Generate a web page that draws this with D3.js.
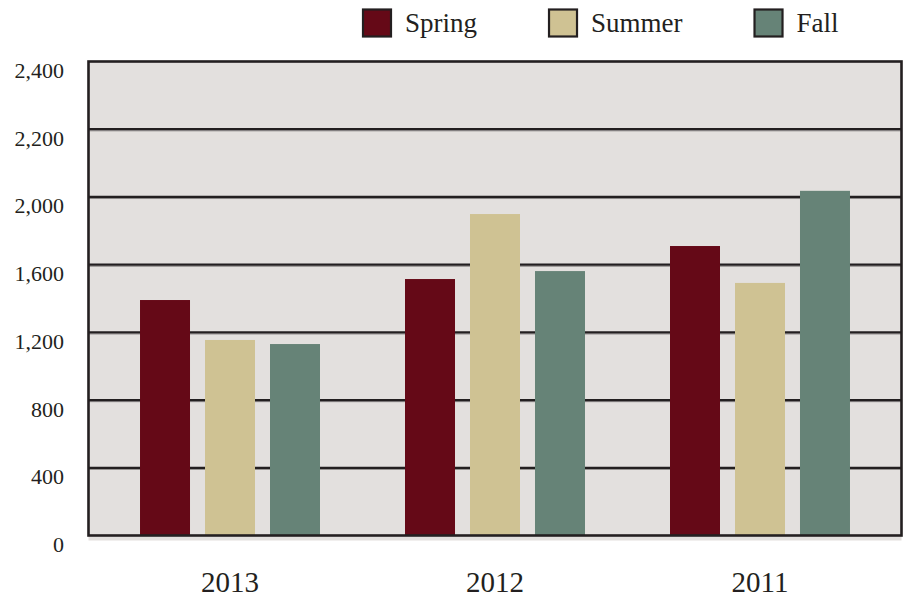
<!DOCTYPE html>
<html>
<head>
<meta charset="utf-8">
<script src="https://cdnjs.cloudflare.com/ajax/libs/d3/7.8.5/d3.min.js"></script>
<style>
  body { margin: 0; background: #fff; }
</style>
</head>
<body>
<script>
const years = ["2013", "2012", "2011"]
const seasons = ["Spring", "Summer", "Fall"]
const spring = [1391, 1515, 1710]
const summer = [1155, 1899, 1492]
const fall = [1131, 1562, 2018]
const tickValues = [0, 400, 800, 1200, 1600, 2000, 2200, 2400]
const colors = ["#650917", "#cfc293", "#668377"]

const width = 908
const height = 598
const margin = {top: 61.5, right: 6.5, bottom: 62.5, left: 88.5}
const serif = "'Liberation Serif', 'DejaVu Serif', serif"

const series = [spring, summer, fall]
const data = years.map((year, i) => ({
  year,
  values: seasons.map((season, j) => ({ season, value: series[j][i] }))
}))

const svg = d3.select("body").append("svg")
    .attr("width", width)
    .attr("height", height)
    .attr("font-family", serif)

const x0 = d3.scaleBand(years, [margin.left, width - margin.right])
    .paddingInner(0)
    .paddingOuter(0.034)

const x1 = d3.scaleBand(seasons, [0, x0.bandwidth()])
    .paddingInner(0.2308)
    .paddingOuter(0.654)

// the axis labels are not evenly spaced in value, so the scale is piecewise
const y = d3.scaleLinear(tickValues,
    tickValues.map((d, i) => height - margin.bottom - i * (height - margin.top - margin.bottom) / (tickValues.length - 1)))

const color = d3.scaleOrdinal(seasons, colors)

svg.append("rect")
    .attr("x", margin.left)
    .attr("y", margin.top)
    .attr("width", width - margin.left - margin.right)
    .attr("height", height - margin.top - margin.bottom)
    .attr("fill", "#e3e0de")

// shadow strip under the frame
svg.append("rect")
    .attr("x", margin.left)
    .attr("y", height - margin.bottom + 1)
    .attr("width", width - margin.left - margin.right)
    .attr("height", 4)
    .attr("fill", "#e3e0de")

const grid = svg.append("g")
  .selectAll("g")
  .data(tickValues.slice(1, -1))
  .join("g")
    .attr("transform", d => `translate(0,${y(d)})`)

grid.append("line")
    .attr("x1", margin.left)
    .attr("x2", width - margin.right)
    .attr("y1", 1.6)
    .attr("y2", 1.6)
    .attr("stroke", "#8a8786")
    .attr("stroke-width", 1)

grid.append("line")
    .attr("x1", margin.left)
    .attr("x2", width - margin.right)
    .attr("stroke", "#231f20")
    .attr("stroke-width", 2.2)

svg.append("g")
  .selectAll("g")
  .data(data)
  .join("g")
    .attr("transform", d => `translate(${x0(d.year)},0)`)
  .selectAll("rect")
  .data(d => d.values)
  .join("rect")
    .attr("x", d => x1(d.season))
    .attr("y", d => y(d.value))
    .attr("width", x1.bandwidth())
    .attr("height", d => y(0) - y(d.value))
    .attr("fill", d => color(d.season))

svg.append("rect")
    .attr("x", margin.left)
    .attr("y", margin.top)
    .attr("width", width - margin.left - margin.right)
    .attr("height", height - margin.top - margin.bottom)
    .attr("fill", "none")
    .attr("stroke", "#231f20")
    .attr("stroke-width", 2.6)

const yAxis = svg.append("g")
    .attr("transform", "translate(64,0)")
    .call(d3.axisLeft(y).tickValues(tickValues).tickSize(0).tickFormat(d3.format(",")))
    .attr("font-family", serif)

yAxis.select(".domain").remove()
yAxis.selectAll("text")
    .attr("x", 0)
    .attr("dy", 16)
    .attr("font-size", 22)
    .attr("text-anchor", "end")
    .attr("fill", "#231f20")

const xAxis = svg.append("g")
    .attr("transform", `translate(0,${height - margin.bottom})`)
    .call(d3.axisBottom(x0).tickSize(0))
    .attr("font-family", serif)

xAxis.select(".domain").remove()
xAxis.selectAll("text")
    .attr("y", 56)
    .attr("dy", null)
    .attr("font-size", 29)
    .attr("fill", "#231f20")

const legend = svg.append("g")
    .attr("transform", "translate(363,9.5)")

let lx = 0
seasons.forEach(season => {
  const item = legend.append("g").attr("transform", `translate(${lx},0)`)
  item.append("rect")
      .attr("width", 28)
      .attr("height", 27)
      .attr("fill", color(season))
      .attr("stroke", "#231f20")
      .attr("stroke-width", 2.2)
  const label = item.append("text")
      .attr("x", 42)
      .attr("y", 22)
      .attr("font-size", 27)
      .attr("fill", "#231f20")
      .text(season)
  lx += 42 + label.node().getComputedTextLength() + 72
})
</script>
</body>
</html>
